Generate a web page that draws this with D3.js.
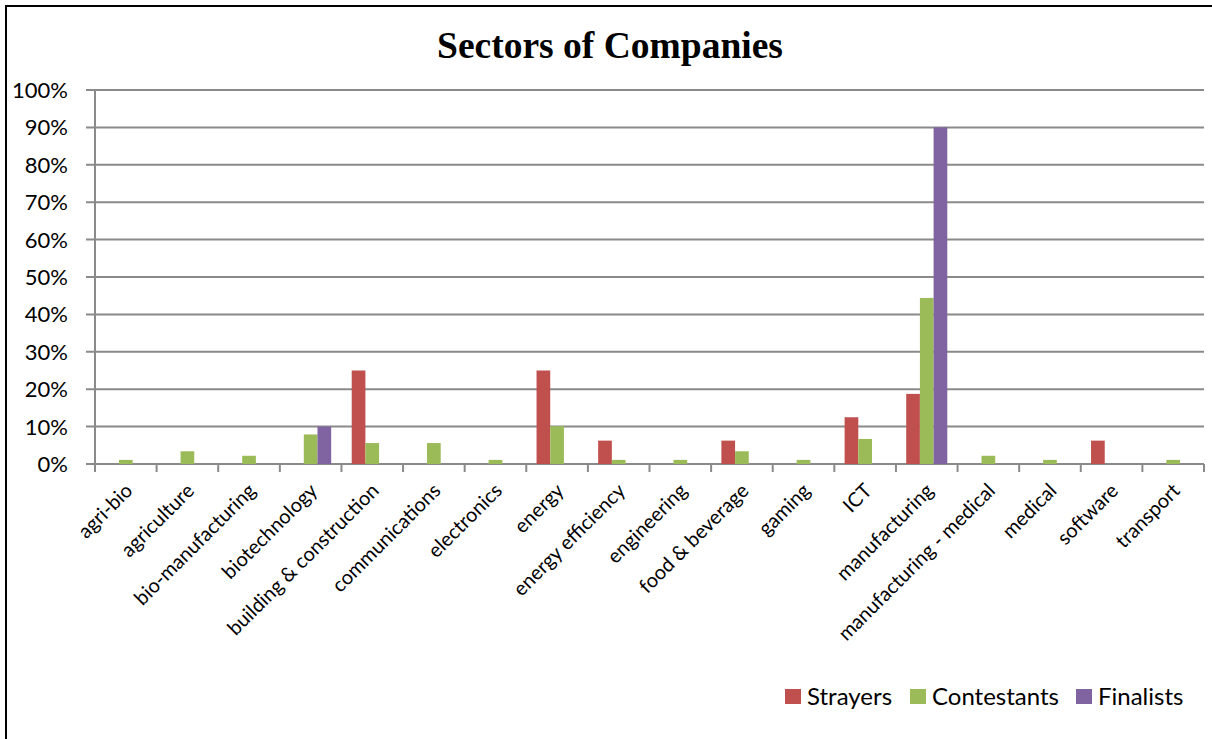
<!DOCTYPE html>
<html><head><meta charset="utf-8">
<script src="https://cdn.jsdelivr.net/npm/d3@7"></script>
<style>body{margin:0;background:#fff;} svg{display:block;}</style>
</head><body>
<svg id="c" width="1212" height="739"></svg>
<script>
const categories = ["agri-bio","agriculture","bio-manufacturing","biotechnology","building & construction","communications","electronics","energy","energy efficiency","engineering","food & beverage","gaming","ICT","manufacturing","manufacturing - medical","medical","software","transport"];
const seriesNames = ["Strayers","Contestants","Finalists"];
const strayers    = [0,0,0,0,25,0,0,25,6.25,0,6.25,0,12.5,18.75,0,0,6.25,0];
const contestants = [1.1,3.4,2.2,7.9,5.6,5.6,1.1,10.1,1.1,1.1,3.4,1.1,6.7,44.4,2.2,1.1,0,1.1];
const finalists   = [0,0,0,10,0,0,0,0,0,0,0,0,0,90,0,0,0,0];
const yTicks = [0,10,20,30,40,50,60,70,80,90,100];
const colors = ["#c0504d","#9bbb59","#8064a2"];
const font = "Lato, 'Open Sans', sans-serif";

const svg = d3.select("#c");
// frame
svg.append("rect").attr("x",6).attr("y",6).attr("width",1212).attr("height",800)
  .attr("fill","none").attr("stroke","#000").attr("stroke-width",2);

svg.append("text").attr("x",610).attr("y",58).attr("text-anchor","middle")
  .attr("font-family","'Liberation Serif','Times New Roman',serif").attr("font-weight","bold")
  .attr("font-size",37.5).text("Sectors of Companies");

const pLeft=95, pRight=1204, pTop=90, pBottom=464;
const x = d3.scaleBand().domain(categories).range([pLeft,pRight]).paddingInner(0);
const y = d3.scaleLinear().domain([0,100]).range([pBottom,pTop]);
const bw = x.bandwidth()/4.5;

// grid
svg.append("g").selectAll("line").data(yTicks).join("line")
  .attr("x1",pLeft-9).attr("x2",pRight).attr("y1",d=>y(d)).attr("y2",d=>y(d))
  .attr("stroke","#8a8a8a").attr("stroke-width",2);
// y axis line
svg.append("line").attr("x1",pLeft).attr("x2",pLeft).attr("y1",pTop).attr("y2",pBottom+8)
  .attr("stroke","#8a8a8a").attr("stroke-width",2);
// x ticks
const tickPos = categories.map(c=>x(c)).concat([pRight]);
svg.append("g").selectAll("line").data(tickPos).join("line")
  .attr("x1",d=>d).attr("x2",d=>d).attr("y1",pBottom).attr("y2",pBottom+8)
  .attr("stroke","#8a8a8a").attr("stroke-width",2);

// y labels
svg.append("g").selectAll("text").data(yTicks).join("text")
  .attr("x",68).attr("y",d=>y(d)).attr("dy","0.36em").attr("text-anchor","end")
  .attr("font-family",font).attr("font-size",22).attr("fill","#000").text(d=>d+"%");

// bars
const series=[strayers,contestants,finalists];
series.forEach((vals,si)=>{
  svg.append("g").selectAll("rect").data(vals.map((v,i)=>({v,c:categories[i]}))).join("rect")
    .attr("x",d=>x(d.c)+0.75*bw+si*bw).attr("width",bw)
    .attr("y",d=>y(d.v)).attr("height",d=>pBottom-y(d.v))
    .attr("fill",colors[si]);
});

// x labels
svg.append("g").selectAll("text").data(categories).join("text")
  .attr("transform",c=>`translate(${x(c)+x.bandwidth()/2+3},${pBottom+23}) rotate(-45)`)
  .attr("text-anchor","end").attr("dy","0.35em")
  .attr("font-family",font).attr("font-size",20).attr("fill","#000").text(c=>c);

// legend
const lg = svg.append("g");
const lx=[785,910,1076];
seriesNames.forEach((n,i)=>{
  lg.append("rect").attr("x",lx[i]).attr("y",689).attr("width",16).attr("height",15).attr("fill",colors[i]);
  lg.append("text").attr("x",lx[i]+22).attr("y",705)
    .attr("font-family",font).attr("font-size",24).attr("fill","#000").text(n);
});
</script>
</body></html>
